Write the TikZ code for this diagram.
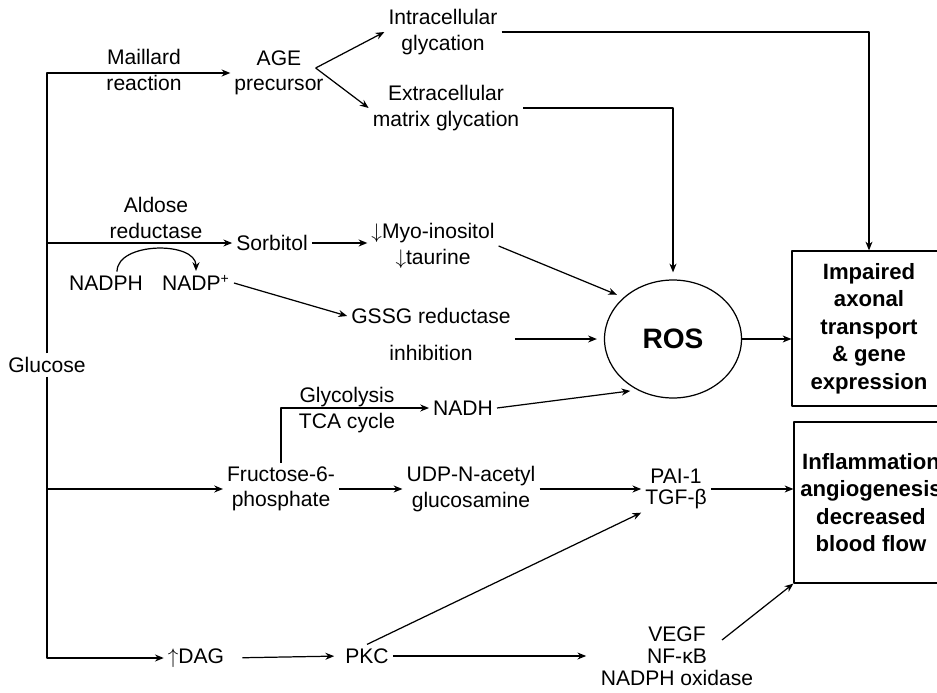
\documentclass[tikz,border=0pt]{standalone}
\usepackage{fontspec}
\setmainfont{Liberation Sans}
\usetikzlibrary{shapes.geometric,calc,arrows.meta}
\begin{document}
\begin{tikzpicture}[x=.02cm,y=-.02cm,line width=.7pt,line join=round,>={Stealth[length=5pt,width=4pt]},
		font=\fontsize{12}{14.5}\selectfont,
		every node/.style={align=center,inner sep=2pt},
		outbox/.style={draw,font=\fontsize{12.6}{15.6}\selectfont\bfseries,minimum width=3.08cm,minimum height=3.1cm},
		toros/.style={->,shorten >=4pt}]
				\clip (0,0) rectangle (937,693);
				\path
				(47,365) node (glu) {Glucose}
				(144,70) node (mail) {Maillard\\reaction}
				(279,73) node (age) {AGE\\precursor}
				(443,32) node (intra) {Intracellular\\glycation}
				(446,108) node (extra) {Extracellular\\matrix glycation}
				(156,218) node (ald) {Aldose\\reductase}
				(272,243) node (sorb) {Sorbitol}
				(433,246) node (myo) {$\downarrow$Myo-inositol\\$\downarrow$taurine}
				(106,283) node (nadph) {NADPH}
				(196,283) node (nadp) {NADP\textsuperscript{+}}
				(431,316) node (gssg) {GSSG reductase}
				(431,353) node (inhib) {inhibition}
				(673,339) node[ellipse,draw,minimum width=2.74cm,minimum height=2.36cm,
					font=\fontsize{16}{18}\selectfont\bfseries] (ros) {ROS}
				(347,410) node (glyc) {Glycolysis\\TCA cycle}
				(463,408) node (nadh) {NADH}
				(281,489) node (fru) {Fructose-6-\\phosphate}
				(471,489) node (udp) {UDP-N-acetyl\\glucosamine}
				(676,489) node (pai) {PAI-1\\[-3pt]TGF-β}
				(196,658) node (dag) {$\uparrow$DAG}
				(367,656) node (pkc) {PKC}
				(677,656) node (vegf) {VEGF\\[-2pt]NF-κB\\[-2pt]NADPH oxidase}
				(869,328.5) node[outbox] (imp) {Impaired\\axonal\\transport\\\& gene\\expression}
				(871,502.5) node[outbox,minimum height=3.22cm] (infl) {Inflammation\\angiogenesis\\decreased\\blood flow}
				;
				\draw[->] (glu.north) |- (age.west);
				\draw[->] (glu.north) |- (sorb.west);
				\draw[->] (glu.south) |- (fru.west);
				\draw[->] (glu.south) |- (dag.west);
				\draw[->] ($(age.east)+(-12,-5)$) -- (intra.west);
				\draw[->] ($(age.east)+(-12,-5)$) -- (extra.west);
				\draw[->] (intra.east) -| (imp.north);
				\draw[toros] (extra.east) -| (ros.north);
				\draw[->] (sorb.east) -- (sorb.east -| myo.west);
				\draw[toros] (myo.east) -- (ros.140);
				\draw[->] ($(nadph.north)+(11,0)$) .. controls +(0,-30) and +(0,-30) .. (nadp.north);
				\draw[->] (nadp.east) -- (gssg.west);
				\draw[toros] (gssg.east |- ros.west) -- (ros.west);
				\draw[->] (fru.north) |- (nadh.west);
				\draw[toros] (nadh.east) -- (ros.235);
				\draw[->] (ros.east) -- (ros.east -| imp.west);
				\draw[->] (fru.east) -- (udp.west);
				\draw[->] (udp.east) -- (udp.east -| pai.west);
				\draw[->] (pai.east) -- (pai.east -| infl.west);
				\draw[->,shorten <=8pt,shorten >=4pt] (dag.east) -- (pkc.west);
				\draw[->] (pkc.north) -- (pai.south west);
				\draw[->,shorten >=6pt] (pkc.east) -- (pkc.east -| vegf.west);
				\draw[->] ($(vegf.center)+(45,-16)$) -- (infl.south west);
		\end{tikzpicture}
\end{document}
